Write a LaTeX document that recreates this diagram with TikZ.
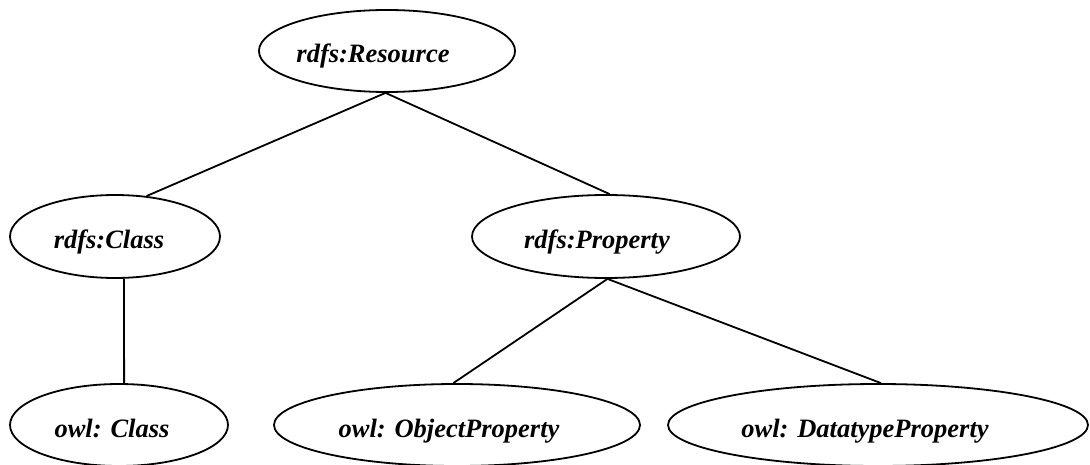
\documentclass[tikz,border=0pt]{standalone}
\usepackage{fontspec}
\setmainfont{Liberation Serif}
\usetikzlibrary{shapes.geometric}
\newcommand{\lowtext}[1]{\raisebox{-12pt}[0pt][0pt]{#1}}
\begin{document}
\begin{tikzpicture}[x=1pt,y=-1pt,
  ell/.style={draw=black, line width=1.8pt, ellipse, inner sep=0pt,
    font=\fontsize{26.5}{30}\selectfont\bfseries\itshape},
  conn/.style={draw=black, line width=1.8pt}]
\useasboundingbox (0,0) rectangle (1090,465);
\node[ell, minimum width=250pt, minimum height=82pt] (res) at (387,51) {\lowtext{rdfs:Resource}\hspace*{28pt}};
\node[ell, minimum width=210pt, minimum height=83pt] (cls) at (115,236.5) {\lowtext{rdfs:Class}\hspace*{12pt}};
\node[ell, minimum width=268pt, minimum height=83pt] (prop) at (606,236.5) {\lowtext{rdfs:Property}\hspace*{18pt}};
\node[ell, minimum width=218pt, minimum height=82pt] (oc) at (119,425) {\lowtext{owl: Class}\hspace*{14pt}};
\node[ell, minimum width=366pt, minimum height=82pt] (op) at (457,425) {\lowtext{owl: ObjectProperty}\hspace*{16pt}};
\node[ell, minimum width=420pt, minimum height=82pt] (dt) at (878,425) {\lowtext{owl: DatatypeProperty}\hspace*{26pt}};
\draw[conn] (res.-92) -- (cls.52);
\draw[conn] (res.-92) -- (prop.85);
\draw[conn] (cls.-78) -- (oc.83);
\draw[conn] (prop.-88) -- (op.95);
\draw[conn] (prop.-88) -- (dt.86);
\end{tikzpicture}
\end{document}
